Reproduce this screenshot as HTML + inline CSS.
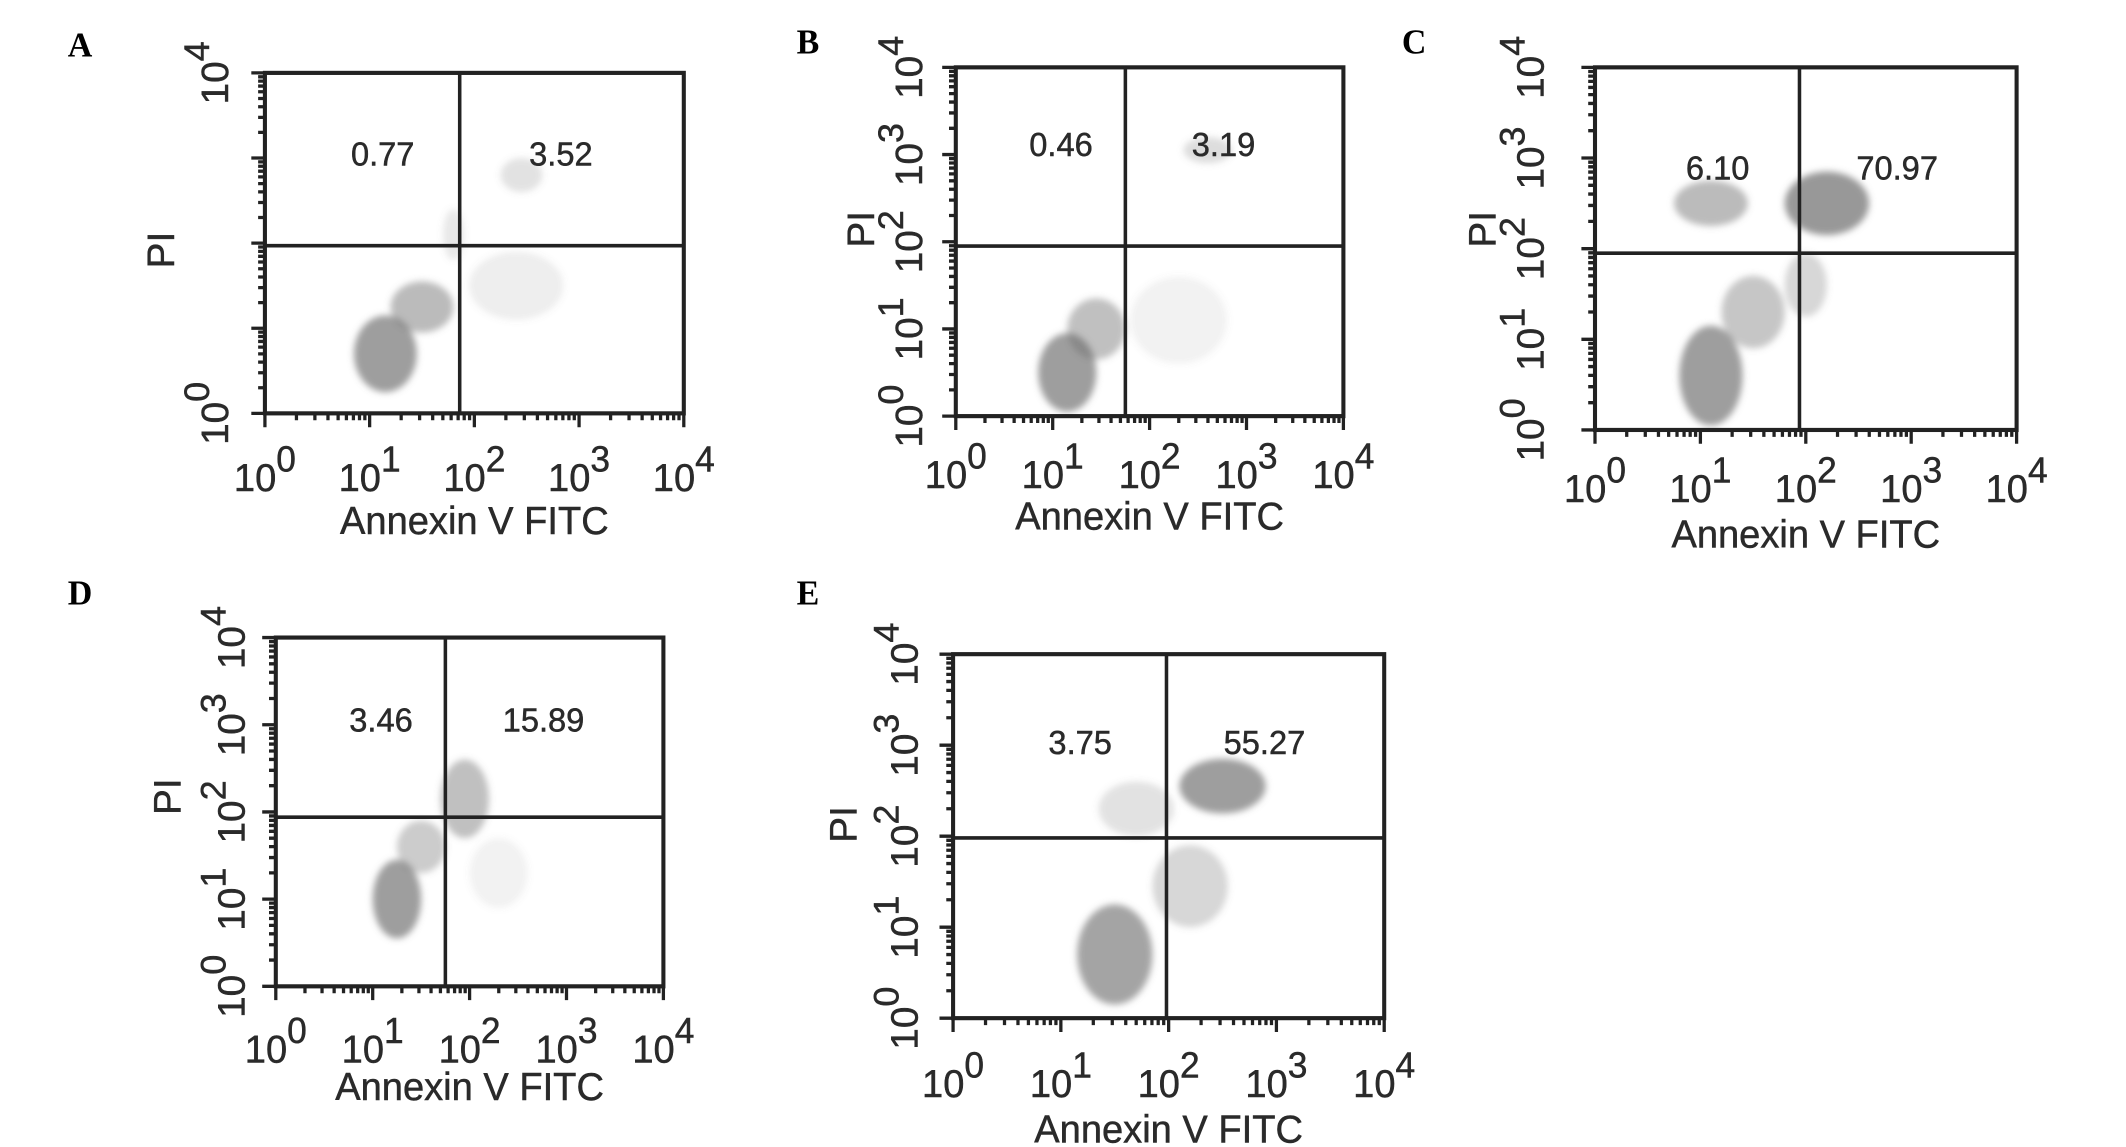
<!DOCTYPE html>
<html><head><meta charset="utf-8"><style>
html,body{margin:0;padding:0;background:#fff;}
svg{display:block;}
text{font-family:"Liberation Sans",sans-serif;fill:#2a2a2a;stroke:#2a2a2a;stroke-width:0.35;}
.lt{font-family:"Liberation Serif",serif;font-weight:bold;fill:#000;stroke:none;}
</style></head><body>
<svg id="fig" width="2126" height="1147" viewBox="0 0 2126 1147" xmlns="http://www.w3.org/2000/svg">
<defs><filter id="bl" x="-50%" y="-50%" width="200%" height="200%"><feGaussianBlur stdDeviation="2.5"/></filter></defs>
<g id="root" transform="translate(-3,-6) scale(1.36,1.384)"></g>
</svg>
<script>
// ---- data ----
const panelIds=['A','B','C','D','E'];
const gateX=[1.86,1.75,1.94,1.75,1.98];
const gateY=[1.97,1.95,1.95,1.94,1.98];
const ulPct=['0.77','0.46','6.10','3.46','3.75'];
const urPct=['3.52','3.19','70.97','15.89','55.27'];
const yTickExp=[['0','4'],['0','1','2','3','4'],['0','1','2','3','4'],['0','1','2','3','4'],['0','1','2','3','4']];
const xTickExp=['0','1','2','3','4'];
// blobs: [logX, logY, radiusX(log), radiusY(log), density]
const blobsA=[[1.15,0.7,0.3,0.45,0.85],[1.5,1.25,0.3,0.3,0.6],[2.45,2.8,0.2,0.2,0.25],[2.4,1.5,0.45,0.4,0.15],[1.8,2.1,0.1,0.3,0.2]];
const blobsB=[[1.15,0.5,0.3,0.45,0.85],[1.45,1.0,0.3,0.35,0.55],[2.6,3.05,0.25,0.15,0.3],[2.3,1.1,0.5,0.5,0.12]];
const blobsC=[[1.1,0.6,0.3,0.55,0.85],[1.5,1.3,0.3,0.4,0.5],[1.1,2.5,0.35,0.25,0.6],[2.2,2.5,0.4,0.35,0.9],[2.0,1.6,0.2,0.35,0.35]];
const blobsD=[[1.25,1.0,0.25,0.45,0.85],[1.5,1.6,0.25,0.3,0.45],[1.95,2.15,0.25,0.45,0.55],[2.3,1.3,0.3,0.4,0.12]];
const blobsE=[[1.5,0.7,0.35,0.55,0.8],[2.5,2.55,0.4,0.3,0.85],[2.2,1.45,0.35,0.45,0.35],[1.7,2.3,0.35,0.3,0.25]];
const blobsAll=[blobsA,blobsB,blobsC,blobsD,blobsE];
// ---- layout (display units) ----
const boxes=[[197,57,505,303],[705,53,990,305],[1175,53,1485,315],[205,465,490,717],[703,477,1020,740]];
const letterPos=[[52,45],[588,43],[1033,43],[52,441],[588,441]];
const ylabX=[170,680,1137,182,677];
const piPos=[[130,185],[645,170],[1102,170],[135,580],[632,600]];
const pctY=[124,117,134,533,549];
const xlabY=[359,357,367,772,797];
const annY=[390,387,400,799,830];
const NS='http://www.w3.org/2000/svg';
const root=document.getElementById('root');
function mk(tag,attrs,parent){const e=document.createElementNS(NS,tag);for(const k in attrs)e.setAttribute(k,attrs[k]);(parent||root).appendChild(e);return e;}
panelIds.forEach((id,i)=>{
  const [x0,y0,x1,y1]=boxes[i];
  const sx=v=>x0+(x1-x0)*v/4, sy=v=>y1-(y1-y0)*v/4;
  const g=mk('g',{});
  
  
  const lt=mk('text',{x:letterPos[i][0],y:letterPos[i][1],class:'lt','font-size':25},g);lt.textContent=id;
  
  
  const sc=mk('g',{filter:'url(#bl)'},g);
  
  
  blobsAll[i].forEach(b=>{
    const e=mk('ellipse',{cx:sx(b[0]),cy:sy(b[1]),rx:(x1-x0)*b[2]/4,ry:(y1-y0)*b[3]/4,fill:'#707070','fill-opacity':b[4]*0.8},sc);
    
    
  });
  let d='';
  for(let dec=0;dec<4;dec++){for(let k=1;k<10;k++){const v=dec+Math.log10(k);const L=k===1?10:5;
    d+=`M${sx(v)},${y1}v${L}M${x0},${sy(v)}h${-L}`;}}
  d+=`M${sx(4)},${y1}v10M${x0},${sy(4)}h-10`;
  const tk=mk('path',{d:d,stroke:'#222','stroke-width':2.4,fill:'none'},g);
  
  
  const bx=mk('rect',{x:x0,y:y0,width:x1-x0,height:y1-y0,fill:'none',stroke:'#222','stroke-width':3},g);
  
  
  const q=mk('path',{d:`M${sx(gateX[i])},${y0}V${y1}M${x0},${sy(gateY[i])}H${x1}`,stroke:'#222','stroke-width':2.6},g);
  
  
  const t1=mk('text',{x:(x0+sx(gateX[i]))/2+15,y:pctY[i],'font-size':24,'text-anchor':'middle'},g);t1.textContent=ulPct[i];
  
  
  const t2=mk('text',{x:(x1+sx(gateX[i]))/2-8,y:pctY[i],'font-size':24,'text-anchor':'middle'},g);t2.textContent=urPct[i];
  
  
  xTickExp.forEach(e=>{
    const t=mk('text',{x:sx(+e),y:xlabY[i],'font-size':28,'text-anchor':'middle'},g);
    t.innerHTML='10<tspan dy="-14" font-size="26">'+e+'</tspan>';
    
    
  });
  yTickExp[i].forEach(e=>{
    const t=mk('text',{transform:`translate(${ylabX[i]},${sy(+e)}) rotate(-90)`,'font-size':28,'text-anchor':'middle'},g);
    t.innerHTML='10<tspan dy="-14" font-size="26">'+e+'</tspan>';
    
    
  });
  const ax=mk('text',{x:(x0+x1)/2,y:annY[i],'font-size':28,'text-anchor':'middle'},g);ax.textContent='Annexin V FITC';
  
  
  const ay=mk('text',{transform:`translate(${piPos[i][0]},${piPos[i][1]}) rotate(-90)`,'font-size':28,'text-anchor':'middle'},g);ay.textContent='PI';
  
  
});
</script>
</body></html>
